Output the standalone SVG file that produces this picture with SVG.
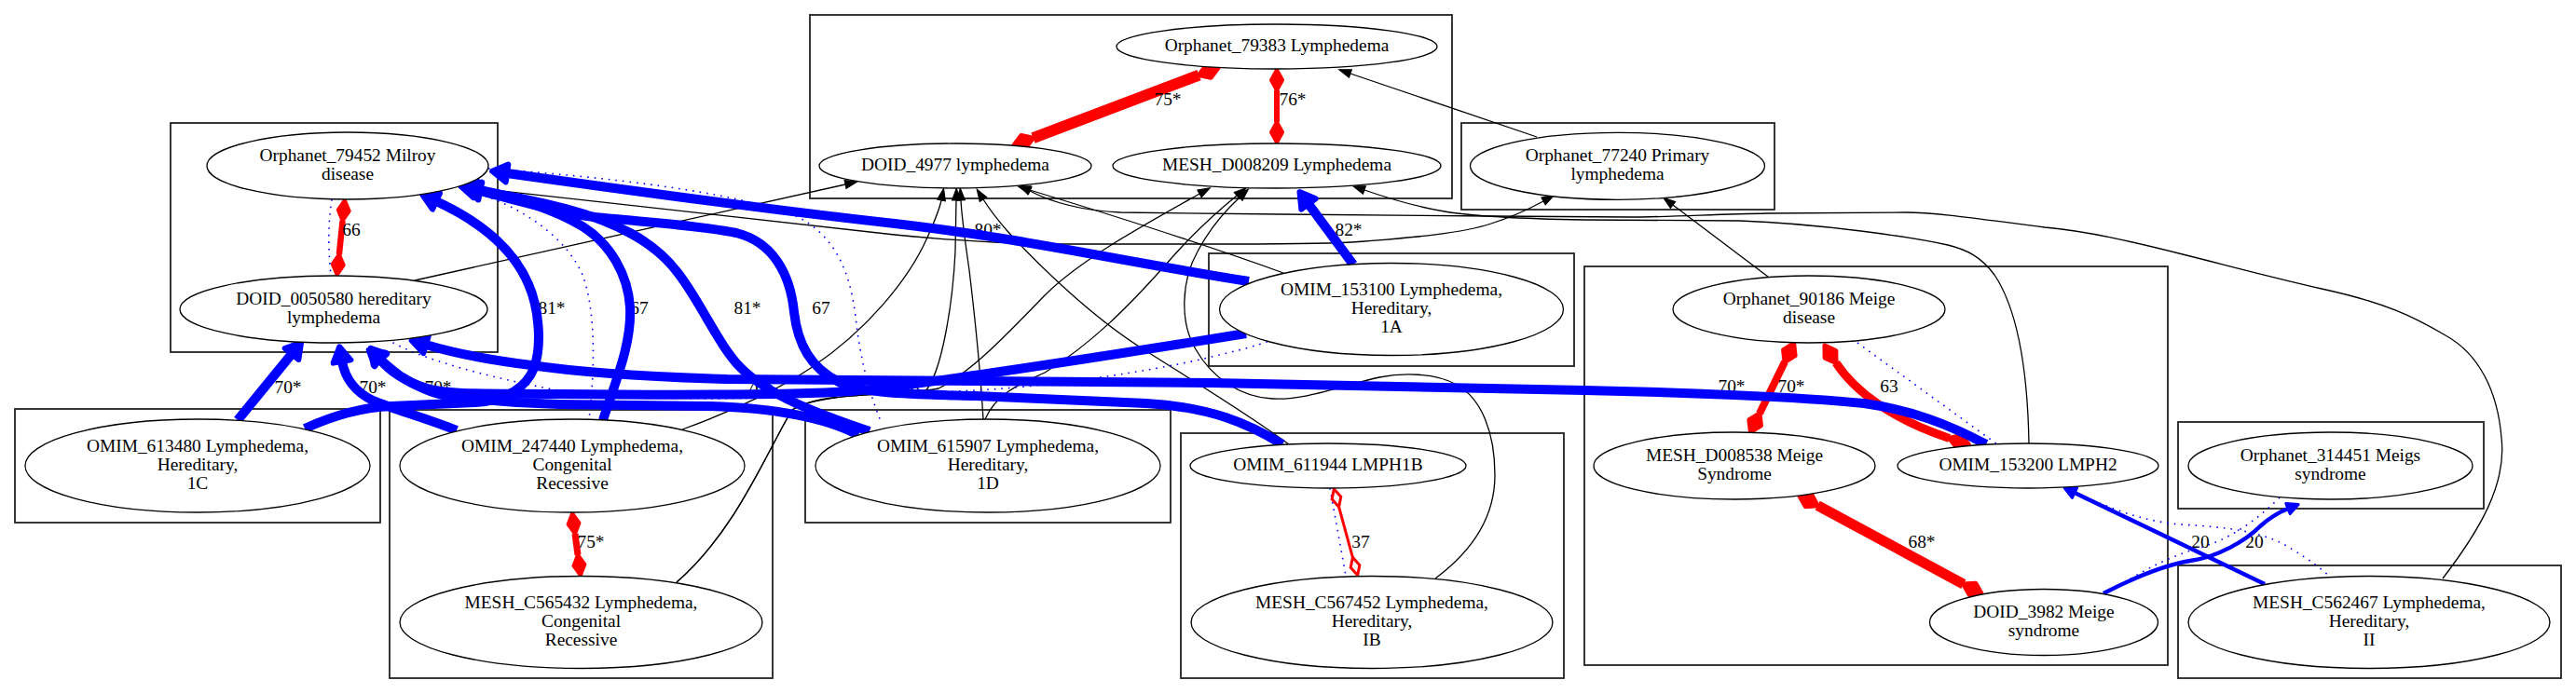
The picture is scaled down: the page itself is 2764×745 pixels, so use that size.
<svg xmlns="http://www.w3.org/2000/svg" width="2764" height="745" viewBox="0 0 2764 745">
<style>
.cl{fill:none;stroke:#222;stroke-width:1.8}
.nd ellipse{fill:#fff;stroke:#000;stroke-width:1.3}
text{font-family:"Liberation Serif","Times New Roman",serif;font-size:19.4px;text-anchor:middle;fill:#000}
.k{fill:none;stroke:#000;stroke-width:1.3;marker-end:url(#ak)}
.b{fill:none;stroke:#0000ff;stroke-width:10;marker-end:url(#ab)}
.bm{fill:none;stroke:#0000ff;stroke-width:4.5;marker-end:url(#abm)}
.d{fill:none;stroke:#0000ff;stroke-width:1.6;stroke-dasharray:1.6 6}
.rL{fill:none;stroke:#ff0000;marker-start:url(#dL);marker-end:url(#dL)}
.rM{fill:none;stroke:#ff0000;marker-start:url(#dM);marker-end:url(#dM)}
.rO{fill:none;stroke:#ff0000;stroke-width:3;marker-start:url(#dO);marker-end:url(#dO)}
</style>
<defs>
<marker id="ak" markerUnits="userSpaceOnUse" orient="auto" refX="0" refY="0" markerWidth="20" markerHeight="20" overflow="visible"><path d="M0,-4.5L13,0L0,4.5z" fill="#000" stroke="#000" stroke-width="1"/></marker>
<marker id="ab" markerUnits="userSpaceOnUse" orient="auto" refX="0" refY="0" markerWidth="30" markerHeight="30" overflow="visible"><path d="M0,-9.5L16,0L0,9.5z" fill="#0000ff" stroke="#0000ff" stroke-width="6" stroke-linejoin="round"/></marker>
<marker id="abm" markerUnits="userSpaceOnUse" orient="auto" refX="0" refY="0" markerWidth="20" markerHeight="20" overflow="visible"><path d="M0,-6L12,0L0,6z" fill="#0000ff" stroke="#0000ff" stroke-width="3" stroke-linejoin="round"/></marker>
<marker id="dL" markerUnits="userSpaceOnUse" orient="auto-start-reverse" refX="0" refY="0" markerWidth="30" markerHeight="30" overflow="visible"><path d="M0,0L11,-7L22,0L11,7z" fill="#ff0000" stroke="#ff0000" stroke-width="5" stroke-linejoin="round"/></marker>
<marker id="dM" markerUnits="userSpaceOnUse" orient="auto-start-reverse" refX="0" refY="0" markerWidth="30" markerHeight="30" overflow="visible"><path d="M0,0L11,-6L22,0L11,6z" fill="#ff0000" stroke="#ff0000" stroke-width="4" stroke-linejoin="round"/></marker>
<marker id="dO" markerUnits="userSpaceOnUse" orient="auto-start-reverse" refX="0" refY="0" markerWidth="30" markerHeight="30" overflow="visible"><path d="M0,0L10,-5L20,0L10,5z" fill="#fff" stroke="#ff0000" stroke-width="3"/></marker>
</defs>
<rect width="2764" height="745" fill="#fff"/>
<g id="clusters">
<rect class="cl" x="869" y="16" width="689" height="197"/>
<rect class="cl" x="183" y="132" width="351" height="246"/>
<rect class="cl" x="16" y="439" width="392" height="122"/>
<rect class="cl" x="418" y="440" width="411" height="288"/>
<rect class="cl" x="864" y="440" width="392" height="121"/>
<rect class="cl" x="1267" y="465" width="411" height="263"/>
<rect class="cl" x="1297" y="272" width="392" height="121"/>
<rect class="cl" x="1568" y="132" width="336" height="93"/>
<rect class="cl" x="1700" y="286" width="626" height="428"/>
<rect class="cl" x="2337" y="453" width="328" height="93"/>
<rect class="cl" x="2337" y="607" width="411" height="121"/>
</g>
<g id="connectors">
<g id="black-edges">
<path class="k" d="M1649,147 L1449,79"/>
<path class="k" d="M445,301 L907,198"/>
<path class="k" d="M493,200 L960,252 C1020,258 1080,261 1113,262 L1300,262 C1380,262 1430,261 1450,260 C1520,255 1570,250 1600,240 C1625,232 1645,222 1656,216"/>
<path class="k" d="M1897,297 L1795,220"/>
<path class="k" d="M732,461 C790,440 840,415 870,395 C930,355 975,300 995,255 C1003,237 1008,225 1010,215"/>
<path class="k" d="M726,625 C790,570 825,480 850,440 C880,420 960,425 993,420 C1010,400 1022,330 1025,270 L1026,215"/>
<path class="k" d="M1055,450 C1052,400 1046,340 1040,290 C1035,255 1032,235 1031,215"/>
<path class="k" d="M1383,477 C1340,445 1290,415 1230,377 C1170,340 1110,280 1080,247 C1068,233 1060,222 1055,214"/>
<path class="k" d="M1377,293 C1300,265 1200,233 1105,204"/>
<path class="k" d="M726,625 C790,570 825,480 850,440 C880,420 970,425 1007,417 C1040,400 1070,370 1121,317 C1160,278 1230,240 1287,208"/>
<path class="k" d="M1057,450 C1070,420 1100,410 1121,400 C1170,370 1210,330 1250,285 C1280,250 1305,228 1327,210"/>
<path class="k" d="M1540,621 C1575,595 1604,560 1604,510 C1604,465 1590,428 1563,413 C1540,400 1505,400 1480,405 C1440,414 1400,430 1365,428 C1330,426 1300,405 1283,375 C1265,345 1268,300 1285,270 C1297,247 1315,226 1330,212"/>
<path class="k" d="M2177,476 C2176,420 2170,340 2140,295 C2125,275 2110,268 2090,263 C2050,254 1950,240 1867,237 L1700,236 C1640,235 1580,232 1550,227 C1520,222 1490,213 1464,204"/>
<path class="k" d="M2621,621 C2660,570 2690,520 2684,470 C2680,420 2660,380 2624,360 C2590,340 2560,325 2491,310 C2430,296 2390,285 2342,273 C2290,260 2240,248 2194,244 C2130,236 2080,228 2045,228 L1897,229 C1840,230 1790,233 1748,233 L1600,232 L1374,230 L1202,228 C1160,226 1130,218 1105,205"/>
</g>
<g id="dotted-edges">
<path class="d" d="M356,214 C352,240 352,265 355,296"/>
<path class="d" d="M524,181 C650,190 780,205 850,230 C895,250 912,290 918,340 C923,385 932,420 945,452"/>
<path class="d" d="M520,210 C570,228 610,260 625,295 C640,335 638,400 632,450"/>
<path class="d" d="M415,364 C440,380 500,400 593,418 C660,427 740,428 780,428 L940,423 C1000,421 1047,420 1100,415 C1180,407 1260,393 1300,383 C1330,376 1345,372 1362,366"/>
<path class="d" d="M1993,368 L2143,477"/>
<path class="d" d="M2218,524 C2260,545 2300,560 2340,563 C2390,566 2430,570 2460,590 C2480,602 2492,612 2500,619"/>
<path class="d" d="M2446,534 C2420,560 2390,580 2360,588 C2320,600 2290,618 2262,636"/>
<path class="d" d="M1427,524 L1444,618"/>
</g>
<g id="red-edges">
<path class="rL" stroke-width="12" d="M1286.5,80.6 L1108.5,148.1"/>
<path class="rM" stroke-width="6" d="M1370,97 L1370,131"/>
<path class="rM" stroke-width="6.5" d="M367.6,236.9 L363.9,273.1"/>
<path class="rM" stroke-width="7" d="M617,573 L620,595.7"/>
<path class="rO" d="M1436.6,544.2 L1451.4,598.3"/>
<path class="rL" stroke-width="8" d="M1915,388.5 L1888,443.8"/>
<path class="rL" stroke-width="9" d="M1970,389.5 C1990,420 2030,450 2091.6,470.5"/>
<path class="rL" stroke-width="11" d="M1950.2,542.7 L2106.8,627.1"/>
</g>
<g id="edge-labels">
<text x="1253" y="113">75*</text>
<text x="1387" y="113">76*</text>
<text x="377" y="253">66</text>
<text x="592" y="337">81*</text>
<text x="686" y="337">67</text>
<text x="802" y="337">81*</text>
<text x="881" y="337">67</text>
<text x="309" y="422">70*</text>
<text x="400" y="422">70*</text>
<text x="470" y="422">70*</text>
<text x="815" y="422">70*</text>
<text x="977" y="422">68</text>
<text x="1060" y="253">80*</text>
<text x="1447" y="253">82*</text>
<text x="634" y="588">75*</text>
<text x="1460" y="588">37</text>
<text x="1858" y="421">70*</text>
<text x="1922" y="421">70*</text>
<text x="2027" y="421">63</text>
<text x="2062" y="588">68*</text>
<text x="2361" y="588">20</text>
<text x="2419" y="588">20</text>
</g>
<g id="blue-edges">
<path class="b" d="M1340,302 C1200,280 1100,256 960,240 C850,228 700,208 544,186"/>
<path class="b" d="M327,460 C360,445 390,437 420,436 L510,432 C545,430 565,415 573,395 C582,370 578,330 567,305 C552,270 520,240 468,216"/>
<path class="b" d="M647,451 C660,410 678,370 676,330 C674,295 655,262 625,243 C595,225 555,212 510,203"/>
<path class="b" d="M933,463 C880,445 825,425 795,395 C770,370 750,320 725,290 C700,258 660,238 607,224 C575,216 545,210 515,205"/>
<path class="b" d="M1376,477 C1340,455 1300,437 1230,433 L1047,425 C980,423 925,423 900,410 C870,395 856,370 852,335 C848,295 830,260 790,250 C740,240 680,238 630,232 C590,226 555,215 515,205"/>
<path class="b" d="M255,451 L313,380"/>
<path class="b" d="M490,462 C460,450 425,440 400,430 C380,420 370,405 367,388"/>
<path class="b" d="M921,467 C885,448 830,438 760,436 L600,434 C560,433 520,430 480,425 C465,423 445,414 430,404 C420,397 414,391 408,386"/>
<path class="b" d="M1337,358 C1200,380 1000,412 913,420 C850,424 700,424 600,423 C540,422 480,425 455,416 C432,408 418,398 408,386"/>
<path class="b" d="M2131,477 C2090,455 2050,440 2000,433 C1930,426 1800,421 1700,419 L1300,411 L780,407 C680,404 610,398 570,392 C530,387 490,380 457,370"/>
<path class="b" d="M1452,284 L1404,219"/>
<path class="bm" d="M2430,627 L2226,529"/>
<path class="bm" d="M2257,637 C2290,620 2320,607 2350,602 C2380,598 2410,580 2425,565 C2435,556 2445,550 2455,546"/>
</g>
</g>
<g id="n_Orphanet_79383" class="nd"><ellipse cx="1370" cy="50" rx="172" ry="24"/><text x="1370" y="55">Orphanet_79383 Lymphedema</text></g>
<g id="n_DOID_4977" class="nd"><ellipse cx="1025" cy="178" rx="146" ry="24"/><text x="1025" y="183">DOID_4977 lymphedema</text></g>
<g id="n_MESH_D008209" class="nd"><ellipse cx="1370" cy="178" rx="176" ry="24"/><text x="1370" y="183">MESH_D008209 Lymphedema</text></g>
<g id="n_Orphanet_77240" class="nd"><ellipse cx="1735.5" cy="178.3" rx="158" ry="36"/><text x="1735.5" y="173">Orphanet_77240 Primary</text><text x="1735.5" y="193">lymphedema</text></g>
<g id="n_Orphanet_79452" class="nd"><ellipse cx="373" cy="178" rx="151" ry="36"/><text x="373" y="173">Orphanet_79452 Milroy</text><text x="373" y="193">disease</text></g>
<g id="n_DOID_0050580" class="nd"><ellipse cx="358" cy="332" rx="165" ry="36"/><text x="358" y="327">DOID_0050580 hereditary</text><text x="358" y="347">lymphedema</text></g>
<g id="n_OMIM_153100" class="nd"><ellipse cx="1493" cy="332" rx="184.5" ry="49.5"/><text x="1493" y="317">OMIM_153100 Lymphedema,</text><text x="1493" y="337">Hereditary,</text><text x="1493" y="357">1A</text></g>
<g id="n_Orphanet_90186" class="nd"><ellipse cx="1941" cy="332" rx="146" ry="36"/><text x="1941" y="327">Orphanet_90186 Meige</text><text x="1941" y="347">disease</text></g>
<g id="n_OMIM_613480" class="nd"><ellipse cx="212" cy="500" rx="185" ry="50"/><text x="212" y="485">OMIM_613480 Lymphedema,</text><text x="212" y="505">Hereditary,</text><text x="212" y="525">1C</text></g>
<g id="n_OMIM_247440" class="nd"><ellipse cx="614" cy="500" rx="185" ry="50"/><text x="614" y="485">OMIM_247440 Lymphedema,</text><text x="614" y="505">Congenital</text><text x="614" y="525">Recessive</text></g>
<g id="n_OMIM_615907" class="nd"><ellipse cx="1060" cy="500" rx="185" ry="50"/><text x="1060" y="485">OMIM_615907 Lymphedema,</text><text x="1060" y="505">Hereditary,</text><text x="1060" y="525">1D</text></g>
<g id="n_OMIM_611944" class="nd"><ellipse cx="1425" cy="500" rx="148" ry="24"/><text x="1425" y="505">OMIM_611944 LMPH1B</text></g>
<g id="n_MESH_D008538" class="nd"><ellipse cx="1861" cy="500" rx="151" ry="36"/><text x="1861" y="495">MESH_D008538 Meige</text><text x="1861" y="515">Syndrome</text></g>
<g id="n_OMIM_153200" class="nd"><ellipse cx="2176" cy="500" rx="140" ry="24"/><text x="2176" y="505">OMIM_153200 LMPH2</text></g>
<g id="n_Orphanet_314451" class="nd"><ellipse cx="2500.5" cy="500" rx="152.5" ry="36"/><text x="2500.5" y="495">Orphanet_314451 Meigs</text><text x="2500.5" y="515">syndrome</text></g>
<g id="n_MESH_C565432" class="nd"><ellipse cx="623.5" cy="668" rx="194.5" ry="49.5"/><text x="623.5" y="653">MESH_C565432 Lymphedema,</text><text x="623.5" y="673">Congenital</text><text x="623.5" y="693">Recessive</text></g>
<g id="n_MESH_C567452" class="nd"><ellipse cx="1472" cy="668" rx="194" ry="49.5"/><text x="1472" y="653">MESH_C567452 Lymphedema,</text><text x="1472" y="673">Hereditary,</text><text x="1472" y="693">IB</text></g>
<g id="n_DOID_3982" class="nd"><ellipse cx="2193" cy="668" rx="122.5" ry="35.5"/><text x="2193" y="663">DOID_3982 Meige</text><text x="2193" y="683">syndrome</text></g>
<g id="n_MESH_C562467" class="nd"><ellipse cx="2542" cy="668" rx="194" ry="49.5"/><text x="2542" y="653">MESH_C562467 Lymphedema,</text><text x="2542" y="673">Hereditary,</text><text x="2542" y="693">II</text></g>
</svg>
